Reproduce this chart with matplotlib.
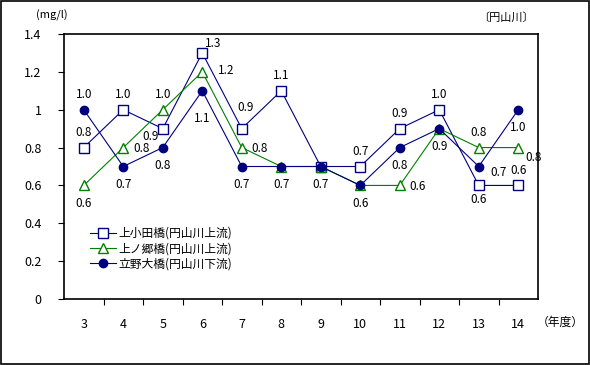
import matplotlib
matplotlib.use("Agg")
import matplotlib.pyplot as plt
from matplotlib.patches import Rectangle

plt.rcParams["font.family"] = ["Noto Sans CJK JP", "DejaVu Sans"]

# ── data ──────────────────────────────────────────────────────────────────────
years = ["3", "4", "5", "6", "7", "8", "9", "10", "11", "12", "13", "14"]
kamioda = [0.8, 1.0, 0.9, 1.3, 0.9, 1.1, 0.7, 0.7, 0.9, 1.0, 0.6, 0.6]
kaminogo = [0.6, 0.8, 1.0, 1.2, 0.8, 0.7, 0.7, 0.6, 0.6, 0.9, 0.8, 0.8]
tateno = [1.0, 0.7, 0.8, 1.1, 0.7, 0.7, 0.7, 0.6, 0.8, 0.9, 0.7, 1.0]
series_names = ["上小田橋(円山川上流)", "上ノ郷橋(円山川上流)", "立野大橋(円山川下流)"]

# label offsets in points (None = label hidden)
off_sq = [(0, 11), (0, 11), (-9, -6), (8, 7), (3, 15), (0, 11), None,
          (0, 11), (0, 11), (0, 11), (0, -10), (0, 11)]
off_tri = [(0, -13), (13, -1), (0, 11), (17, 1), (13, -1), None, None,
           None, (13, -1), None, (0, 11), (11, -7)]
off_cir = [(0, 11), (0, -13), (0, -13), (0, -20), (0, -13), (0, -13), (0, -13),
           (0, -13), (0, -13), (0, -13), (14, -4), (0, -13)]

NAVY = "#000080"
GREEN = "#008000"

fig = plt.figure(figsize=(5.9, 3.65), dpi=100)
fig.patches.append(Rectangle((0.5 / 590, 1.5 / 365), 588 / 590, 362.5 / 365,
                             transform=fig.transFigure, fill=False,
                             edgecolor="black", linewidth=1.2))
ax = fig.add_axes([64 / 590, 1 - 299 / 365, 474 / 590, 265 / 365])

x = list(range(len(years)))
ax.plot(x, kamioda, color=NAVY, lw=0.8, marker="s", ms=6.5, mfc="white",
        mec=NAVY, mew=1.0, label=series_names[0], zorder=3)
ax.plot(x, kaminogo, color=GREEN, lw=0.8, marker="^", ms=7.5, mfc="white",
        mec=GREEN, mew=1.0, label=series_names[1], zorder=4)
ax.plot(x, tateno, color=NAVY, lw=0.8, marker="o", ms=6, mfc=NAVY,
        mec=NAVY, label=series_names[2], zorder=5)

for vals, offs in ((kamioda, off_sq), (kaminogo, off_tri), (tateno, off_cir)):
    for xi, v, o in zip(x, vals, offs):
        if o is None:
            continue
        ax.annotate(f"{v:.1f}", (xi, v), xytext=o, textcoords="offset points",
                    ha="center", va="center", fontsize=8.5)

ax.set_xlim(-0.5, len(years) - 0.5)
ax.set_ylim(0, 1.4)
ax.set_yticks([0, 0.2, 0.4, 0.6, 0.8, 1.0, 1.2, 1.4])
ax.set_yticklabels(["0", "0.2", "0.4", "0.6", "0.8", "1", "1.2", "1.4"], fontsize=9)
ax.set_xticks([i + 0.5 for i in x[:-1]])
ax.set_xticklabels([])
ax.set_xticks(x, minor=True)
ax.set_xticklabels(years, minor=True, fontsize=9)
ax.tick_params(axis="x", which="minor", length=0, pad=14)
ax.tick_params(axis="x", which="major", direction="out", length=4)
ax.tick_params(axis="y", direction="out", length=4, pad=12)
for s in ax.spines.values():
    s.set_linewidth(1.2)

fig.text(36 / 590, 1 - 15 / 365, "(mg/l)", fontsize=8, va="center")
fig.text(478 / 590, 1 - 18 / 365, "〔円山川〕", fontsize=8, va="center")
fig.text(537 / 590, 1 - 322 / 365, "（年度）", fontsize=8.5, va="center")

ax.legend(loc="upper left", bbox_to_anchor=(0.045, 0.29), frameon=False,
          fontsize=8.5, handlelength=2.2, handletextpad=0.2, labelspacing=0.2,
          borderaxespad=0)

fig.savefig("out.png", dpi=100)
